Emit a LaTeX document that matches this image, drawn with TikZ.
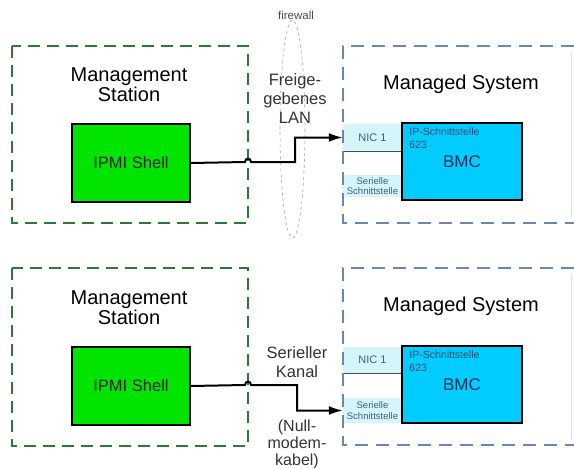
\documentclass[tikz,border=0pt]{standalone}
\usepackage{fontspec}
\setmainfont{Liberation Sans}
\usetikzlibrary{arrows.meta}
\definecolor{stationgreen}{RGB}{45,120,55}
\definecolor{systemblue}{RGB}{105,135,180}
\definecolor{shellgreen}{RGB}{0,228,0}
\definecolor{bmccyan}{RGB}{0,204,255}
\definecolor{portcyan}{RGB}{212,246,250}
\definecolor{bmctext}{RGB}{25,50,95}
\tikzset{station/.style={stationgreen,line width=2pt,dash pattern=on 12pt off 7pt},
         system/.style={systemblue,line width=2pt,dash pattern=on 13pt off 8pt},
         title/.style={align=center,font=\fontsize{20}{20}\selectfont},
         shell/.style={draw,line width=1.5pt,fill=shellgreen,minimum width=118pt,minimum height=78pt,text=black!85,font=\fontsize{16.5}{18}\selectfont},
         bmc/.style={draw,line width=1.5pt,fill=bmccyan,minimum width=120pt,minimum height=77pt,text=bmctext,font=\fontsize{17}{18}\selectfont},
         port/.style={fill=portcyan,minimum width=59pt,inner sep=0pt,align=center,text=bmctext!80,font=\fontsize{9.5}{10.5}\selectfont},
         iplabel/.style={anchor=north west,inner sep=0pt,align=left,text=bmctext!90,font=\fontsize{10.5}{13}\selectfont},
         link/.style={line width=2pt,-{Latex[length=14pt,width=9pt]}},
         lan/.style={align=center,text=black!80,font=\fontsize{16.5}{19}\selectfont}}

\begin{document}
\begin{tikzpicture}[x=1pt,y=-1pt]
   \clip (0,0) rectangle (574,469);
   \fill[white] (0,0) rectangle (574,469);
   \draw[black!35,dashed,line width=0.6pt] (292.5,129) ellipse [x radius=12.5,y radius=109];
   \node[text=black!70,font=\fontsize{11.5}{12}\selectfont] (fw) at (296,15) {firewall};
   \begin{scope}
    \draw[station] (12,46) rectangle (248,223);
    \node[title] (ms1) at (129,85) {Management\\Station};
    \node[shell] (shell1) at (131,163) {IPMI Shell};
    \node[port,minimum height=27pt,font=\fontsize{11}{12}\selectfont] (nic1) at (372.5,137.5) {NIC 1};
    \node[port,minimum height=22pt] (ser1) at (372.5,186) {Serielle\\Schnittstelle};
    \draw[black!70,line width=1pt] (nic1.south west) -- (nic1.south east);
    \draw[system] (574,46) -- (343,46) -- (343,223) -- (574,223);
    \draw[black!12,line width=0.8pt] (571,52) -- (571,218);
    \node[title] (sys1) at (461,84) {Managed System};
    \node[bmc] (bmc1) at (462,161.5) {BMC};
    \node[iplabel] (ip1) at ([shift={(8,5)}]bmc1.north west) {IP-Schnittstelle\\623};
   \end{scope}
   \begin{scope}[shift={(0,223)}]
    \draw[station] (12,45) rectangle (248,223);
    \node[title] (ms2) at (129,85) {Management\\Station};
    \node[shell] (shell2) at (131,163) {IPMI Shell};
    \node[port,minimum height=26pt,font=\fontsize{11}{12}\selectfont] (nic2) at (372.5,137) {NIC 1};
    \node[port,minimum height=25pt] (ser2) at (372.5,187.5) {Serielle\\Schnittstelle};
    \draw[black!70,line width=1pt] (nic2.south west) -- (nic2.south east);
    \draw[system] (574,45) -- (343,45) -- (343,222) -- (574,222);
    \draw[black!12,line width=0.8pt] (571,51) -- (571,217);
    \node[title] (sys2) at (461,83) {Managed System};
    \node[bmc] (bmc2) at (462,161.5) {BMC};
    \node[iplabel] (ip2) at ([shift={(8,5)}]bmc2.north west) {IP-Schnittstelle\\623};
   \end{scope}
   \node[lan] (lan) at (295,99) {Freige-\\gebenes\\LAN};
   \node[lan] (kanal) at (297,362) {Serieller\\Kanal};
   \node[lan,font=\fontsize{16}{17}\selectfont] (kabel) at (297,444) {(Null-\\modem-\\kabel)};
   \draw[link] (shell1.east) -- (245,162) .. controls (245,157.5) and (251,157.5) .. (251,162) -- (295,162) |- (nic1.west);
   \draw[link] (shell2.east) -- (245,385) .. controls (245,380.5) and (251,380.5) .. (251,385) -- (297,385) |- (ser2.west);
\end{tikzpicture}
\end{document}
